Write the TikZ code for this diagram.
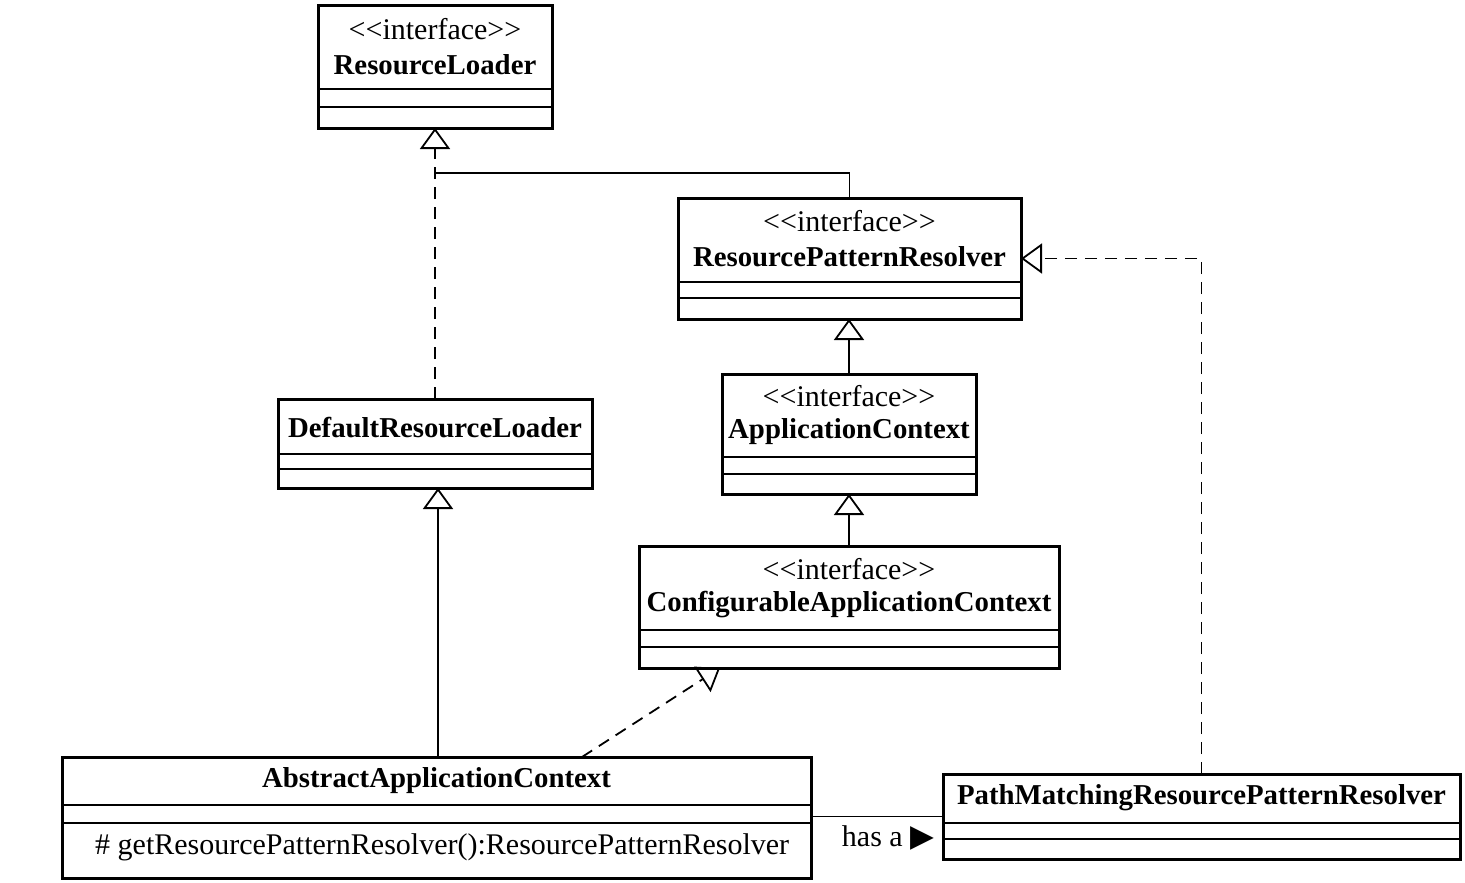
\documentclass[tikz,border=0pt]{standalone}
\usepackage{fontspec}
\setmainfont{Liberation Serif}
\newfontfamily\symfont{DejaVu Sans}
\usetikzlibrary{arrows.meta}

\newcommand{\stereotype}[1]{<\kern0pt<#1>\kern0pt>}

\tikzset{
    classbox/.style={draw, line width=3pt, inner sep=0pt, outer sep=0pt},
    compline/.style={line width=1.6pt},
    gen/.style={line width=1.8pt, -{Triangle[open, length=21pt, width=30pt, line width=1.8pt]}},
    real/.style={gen, dash pattern=on 12pt off 8pt},
    stereo/.style={font=\fontsize{30}{36}\selectfont},
    cname/.style={font=\fontsize{28.8}{34}\selectfont\bfseries},
    plain/.style={font=\fontsize{30}{36}\selectfont},
}

\begin{document}
\begin{tikzpicture}[x=1pt, y=-1pt]
        \useasboundingbox (0,0) rectangle (1465,883);
        % classes
        \node [classbox, minimum width=234pt, minimum height=122pt] (rl) at (435, 67) {};
        \node [classbox, minimum width=343pt, minimum height=121pt] (rpr) at (849.5, 258.5) {};
        \node [classbox, minimum width=254pt, minimum height=120pt] (ac) at (849, 434) {};
        \node [classbox, minimum width=420pt, minimum height=122pt] (cac) at (849, 607) {};
        \node [classbox, minimum width=314pt, minimum height=89pt] (drl) at (435, 443.5) {};
        \node [classbox, minimum width=749pt, minimum height=121pt] (aac) at (436.5, 817.5) {};
        \node [classbox, minimum width=517pt, minimum height=85pt] (pm) at (1201.5, 816.5) {};
        % compartments
        \draw [compline] (rl.west |- 0,89) -- (rl.east |- 0,89);
        \draw [compline] (rl.west |- 0,107) -- (rl.east |- 0,107);
        \draw [compline] (rpr.west |- 0,282) -- (rpr.east |- 0,282);
        \draw [compline] (rpr.west |- 0,298) -- (rpr.east |- 0,298);
        \draw [compline] (ac.west |- 0,457) -- (ac.east |- 0,457);
        \draw [compline] (ac.west |- 0,474) -- (ac.east |- 0,474);
        \draw [compline] (cac.west |- 0,630) -- (cac.east |- 0,630);
        \draw [compline] (cac.west |- 0,647) -- (cac.east |- 0,647);
        \draw [compline] (drl.west |- 0,454) -- (drl.east |- 0,454);
        \draw [compline] (drl.west |- 0,469) -- (drl.east |- 0,469);
        \draw [compline] (aac.west |- 0,805) -- (aac.east |- 0,805);
        \draw [compline] (aac.west |- 0,823) -- (aac.east |- 0,823);
        \draw [compline] (pm.west |- 0,823) -- (pm.east |- 0,823);
        \draw [compline] (pm.west |- 0,839) -- (pm.east |- 0,839);
        % texts
        \node [stereo] (rl-st) at (435, 29) {\stereotype{interface}};
        \node [cname] (rl-name) at (435, 65) {ResourceLoader};
        \node [stereo] (rpr-st) at (849.5, 221) {\stereotype{interface}};
        \node [cname] (rpr-name) at (849.5, 257) {ResourcePatternResolver};
        \node [stereo] (ac-st) at (849, 396) {\stereotype{interface}};
        \node [cname] (ac-name) at (849, 432) {ApplicationContext};
        \node [stereo] (cac-st) at (849, 569) {\stereotype{interface}};
        \node [cname] (cac-name) at (849, 605) {ConfigurableApplicationContext};
        \node [cname] (drl-name) at (435, 428) {DefaultResourceLoader};
        \node [cname] (aac-name) at (436.5, 781) {AbstractApplicationContext};
        \node [plain, anchor=west, inner sep=0pt] (aac-op) at (95, 847) {\# getResourcePatternResolver():ResourcePatternResolver};
        \node [cname] (pm-name) at (1201.5, 798) {PathMatchingResourcePatternResolver};
        % relations
        \coordinate (rljoin) at ([yshift=-45pt]rl.south);
        \draw [real] (drl.north) -- (rl.south);
        \draw [line width=1.8pt] (rpr.north) |- (rljoin);
        \draw [gen] (ac.north) -- (ac.north |- rpr.south);
        \draw [gen] (cac.north) -- (cac.north |- ac.south);
        \draw [gen] ([xshift=3pt]drl.south |- aac.north) -- ([xshift=3pt]drl.south);
        \draw [real] ([xshift=145.5pt]aac.north) -- ([xshift=-129pt]cac.south);
        \draw [real] (pm.north) |- (rpr.east);
        \draw [line width=1.8pt] (pm.west -| aac.east) -- (pm.west);
        \node [plain] (hasa) at (888, 838) {has a {\symfont\fontsize{31}{34}\selectfont ▶}};
    \end{tikzpicture}
\end{document}
